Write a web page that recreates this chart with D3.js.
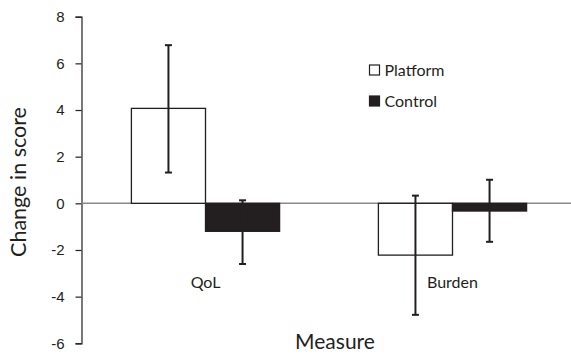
<!DOCTYPE html>
<html>
<head>
<meta charset="utf-8">
<script src="https://cdn.jsdelivr.net/npm/d3@7"></script>
<style>
  body { margin: 0; background: #fff; }
  svg { display: block; font-family: Lato, "Noto Sans", sans-serif; }
</style>
</head>
<body>
<div id="chart"></div>
<script>
// Chart data
const categories = ["QoL", "Burden"];
const seriesNames = ["Platform", "Control"];
const platformValues = [4.07, -2.22];
const controlValues = [-1.2, -0.33];
const platformErrLow = [1.32, -4.78];
const platformErrHigh = [6.78, 0.33];
const controlErrLow = [-2.6, -1.65];
const controlErrHigh = [0.13, 1.01];
const yTicks = [-6, -4, -2, 0, 2, 4, 6, 8];

const width = 571, height = 355;
const margin = { top: 17, right: 0, bottom: 12, left: 81.5 };

const svg = d3.select("#chart").append("svg")
    .attr("width", width)
    .attr("height", height);

const y = d3.scaleLinear()
    .domain([-6, 8])
    .range([343.3, 16.7]);

const x = d3.scaleBand()
    .domain(categories)
    .range([82, 576])
    .paddingInner(0.4)
    .paddingOuter(0.2);

const xs = d3.scaleBand()
    .domain(seriesNames)
    .range([0, x.bandwidth()]);

const fills = { Platform: "#ffffff", Control: "#231f20" };

// Build rows from the arrays
const rows = [];
categories.forEach((c, i) => {
    rows.push({ cat: c, series: "Platform", value: platformValues[i], lo: platformErrLow[i], hi: platformErrHigh[i] });
    rows.push({ cat: c, series: "Control", value: controlValues[i], lo: controlErrLow[i], hi: controlErrHigh[i] });
});

// Y axis
const yAxis = svg.append("g")
    .attr("transform", `translate(${margin.left},0)`)
    .call(d3.axisLeft(y).tickValues(yTicks).tickSize(6).tickPadding(11).tickFormat(d3.format("d")));
yAxis.select(".domain").attr("stroke", "#231f20").attr("stroke-width", 1.2);
yAxis.selectAll(".tick line").attr("stroke", "#231f20").attr("stroke-width", 1.2);
yAxis.selectAll(".tick text")
    .attr("font-size", 15)
    .attr("fill", "#231f20")
    .text(d => d < 0 ? "-" + Math.abs(d) : d);

// Zero line
svg.append("line")
    .attr("x1", margin.left)
    .attr("x2", width)
    .attr("y1", y(0))
    .attr("y2", y(0))
    .attr("stroke", "#8a8a8a")
    .attr("stroke-width", 1.5);

// Bars
svg.append("g")
    .selectAll("rect")
    .data(rows)
    .join("rect")
        .attr("x", d => x(d.cat) + xs(d.series))
        .attr("y", d => y(Math.max(0, d.value)))
        .attr("width", xs.bandwidth())
        .attr("height", d => Math.abs(y(d.value) - y(0)))
        .attr("fill", d => fills[d.series])
        .attr("stroke", "#231f20")
        .attr("stroke-width", 1.3);

// Error bars
const err = svg.append("g")
    .attr("stroke", "#231f20")
    .attr("stroke-width", 2)
    .selectAll("g")
    .data(rows)
    .join("g")
    .attr("transform", d => `translate(${x(d.cat) + xs(d.series) + xs.bandwidth() / 2},0)`);

err.append("line")
    .attr("y1", d => y(d.lo))
    .attr("y2", d => y(d.hi));
err.append("line")
    .attr("x1", -3.5).attr("x2", 3.5)
    .attr("y1", d => y(d.hi)).attr("y2", d => y(d.hi));
err.append("line")
    .attr("x1", -3.5).attr("x2", 3.5)
    .attr("y1", d => y(d.lo)).attr("y2", d => y(d.lo));

// Category labels
svg.append("g")
    .selectAll("text")
    .data(categories)
    .join("text")
        .attr("x", d => x(d) + x.bandwidth() / 2)
        .attr("y", 288)
        .attr("text-anchor", "middle")
        .attr("font-size", 16)
        .attr("fill", "#231f20")
        .text(d => d);

// Legend
const legend = svg.append("g")
    .selectAll("g")
    .data(seriesNames)
    .join("g")
    .attr("transform", (d, i) => `translate(369.5,${65 + i * 31})`);
legend.append("rect")
    .attr("width", 10)
    .attr("height", 10)
    .attr("fill", d => fills[d])
    .attr("stroke", "#231f20")
    .attr("stroke-width", 1.2);
legend.append("text")
    .attr("x", 15)
    .attr("y", 10.5)
    .attr("font-size", 16)
    .attr("fill", "#231f20")
    .text(d => d);

// Axis titles
svg.append("text")
    .attr("x", 335)
    .attr("y", 349)
    .attr("text-anchor", "middle")
    .attr("font-size", 21)
    .attr("fill", "#231f20")
    .text("Measure");

svg.append("text")
    .attr("transform", "translate(26,182) rotate(-90)")
    .attr("text-anchor", "middle")
    .attr("font-size", 21.5)
    .attr("fill", "#231f20")
    .text("Change in score");
</script>
</body>
</html>
